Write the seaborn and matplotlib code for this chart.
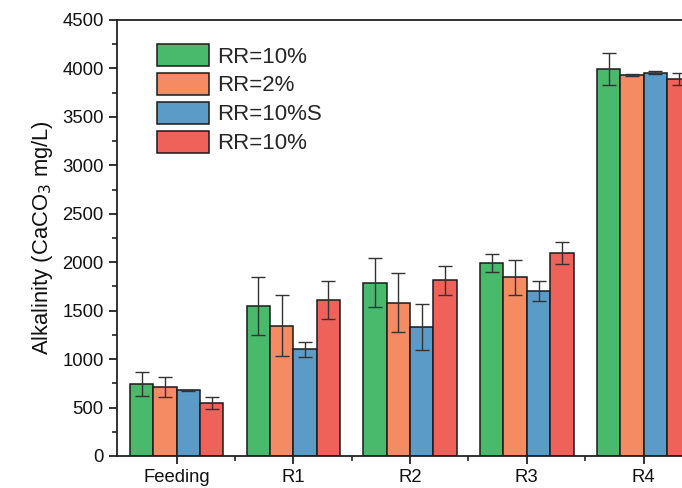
import numpy as np
import pandas as pd
import matplotlib
matplotlib.use("Agg")
import matplotlib.pyplot as plt
from matplotlib.patches import Patch
from matplotlib.ticker import MultipleLocator, FixedLocator
import seaborn as sns

# Sample points and series
stages = ["Feeding", "R1", "R2", "R3", "R4"]
series_keys = ["s1", "s2", "s3", "s4"]
series_labels = ["RR=10%", "RR=2%", "RR=10%S", "RR=10%"]
series_colors = ["#49B96B", "#F58B63", "#5A9BC8", "#EF625A"]

# Mean alkalinity (CaCO3 mg/L) per series, one value per stage
alk_s1 = [740, 1550, 1790, 1995, 3995]
alk_s2 = [712, 1345, 1580, 1845, 3930]
alk_s3 = [680, 1100, 1330, 1705, 3958]
alk_s4 = [545, 1610, 1812, 2092, 3896]

# Standard deviations
sd_s1 = [125, 296, 250, 95, 162]
sd_s2 = [100, 315, 305, 182, 10]
sd_s3 = [5, 78, 235, 103, 12]
sd_s4 = [62, 196, 147, 115, 62]

means = [alk_s1, alk_s2, alk_s3, alk_s4]
sds = [sd_s1, sd_s2, sd_s3, sd_s4]

df = pd.DataFrame({
    "stage": np.repeat([stages], 4, axis=0).ravel(),
    "series": np.repeat(series_keys, len(stages)),
    "alk": np.concatenate(means),
})

sns.set_theme(style="ticks")
plt.rcParams["font.family"] = ["Liberation Sans", "DejaVu Sans"]

fig = plt.figure(figsize=(6.82, 4.88), dpi=100)
ax = fig.add_axes([117 / 682, 32 / 488, 585 / 682, 436 / 488])

sns.barplot(
    data=df, x="stage", y="alk", hue="series", order=stages,
    hue_order=series_keys, palette=series_colors, errorbar=None,
    width=0.8, edgecolor="#1a1a1a", linewidth=1.1, saturation=1,
    legend=False, ax=ax,
)

# Error bars centred on each drawn bar
for cont, sd in zip(ax.containers, sds):
    xs = [p.get_x() + p.get_width() / 2 for p in cont.patches]
    ys = [p.get_height() for p in cont.patches]
    ax.errorbar(xs, ys, yerr=sd, fmt="none", ecolor="#333333",
                elinewidth=1.0, capsize=5, capthick=1.0, zorder=5)

ax.set_xlim(-0.51, len(stages) - 0.5)
ax.set_ylim(0, 4500)
ax.yaxis.set_major_locator(MultipleLocator(500))
ax.yaxis.set_minor_locator(MultipleLocator(250))
ax.xaxis.set_minor_locator(FixedLocator(np.arange(0.5, len(stages) - 0.5, 1.0)))

for side in ["top", "bottom", "left", "right"]:
    ax.spines[side].set_color("#222222")
    ax.spines[side].set_linewidth(1.3)

ax.tick_params(axis="both", which="major", direction="out", length=6,
               width=1.3, color="#222222", labelsize=13.3, labelcolor="#111111")
ax.tick_params(axis="both", which="minor", direction="out", length=3.5,
               width=1.2, color="#222222")

ax.set_xlabel("")
ax.set_ylabel("Alkalinity (CaCO$_3$ mg/L)", fontsize=15.8, color="#111111", labelpad=5)

handles = [Patch(facecolor=c, edgecolor="#1a1a1a", linewidth=1.1) for c in series_colors]
ax.legend(handles, series_labels, loc="upper left",
          bbox_to_anchor=((157 - 117) / 585, (456 - 44) / 436),
          frameon=False, fontsize=16, handlelength=2.35, handleheight=1.15,
          labelspacing=0.24, handletextpad=0.35, borderpad=0, borderaxespad=0)

fig.savefig("out.png", dpi=100)
